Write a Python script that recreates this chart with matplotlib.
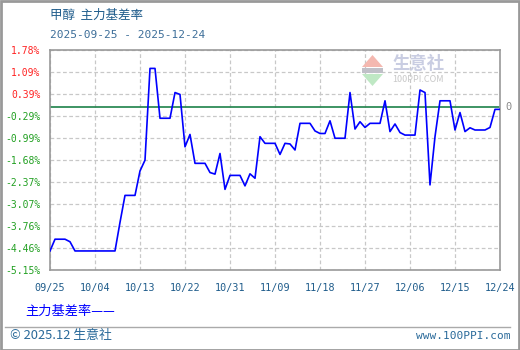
import matplotlib
matplotlib.use("Agg")
import matplotlib.pyplot as plt
from matplotlib.patches import Rectangle, Polygon
from matplotlib.lines import Line2D
import pandas as pd

plt.rcParams['font.family'] = ['Noto Sans CJK SC', 'DejaVu Sans']

# ---- data ----
start_date = "2025-09-25"
end_date = "2025-12-24"
basis_rate = [
    -4.55, -4.18, -4.18, -4.18, -4.26, -4.55, -4.55, -4.55, -4.55, -4.55,
    -4.55, -4.55, -4.55, -4.55, -3.65, -2.80, -2.80, -2.80, -2.03, -1.69,
    1.20, 1.20, -0.37, -0.37, -0.37, 0.44, 0.38, -1.27, -0.88, -1.79,
    -1.79, -1.79, -2.08, -2.13, -1.48, -2.61, -2.17, -2.17, -2.17, -2.50,
    -2.12, -2.26, -0.95, -1.16, -1.16, -1.16, -1.51, -1.16, -1.18, -1.37,
    -0.53, -0.53, -0.53, -0.77, -0.85, -0.85, -0.45, -1.00, -1.00, -1.00,
    0.44, -0.71, -0.48, -0.66, -0.53, -0.53, -0.53, 0.18, -0.79, -0.55,
    -0.82, -0.90, -0.90, -0.90, 0.52, 0.44, -2.47, -0.95, 0.18, 0.18,
    0.18, -0.74, -0.19, -0.79, -0.67, -0.74, -0.74, -0.74, -0.66, -0.09,
    -0.09,
]
y_ticks = [1.78, 1.09, 0.39, -0.29, -0.99, -1.68, -2.37, -3.07, -3.76, -4.46, -5.15]
y_labels = ["1.78%", "1.09%", "0.39%", "-0.29%", "-0.99%", "-1.68%", "-2.37%",
            "-3.07%", "-3.76%", "-4.46%", "-5.15%"]
x_labels = ["09/25", "10/04", "10/13", "10/22", "10/31", "11/09", "11/18",
            "11/27", "12/06", "12/15", "12/24"]
x_tick_dates = ["2025-09-25", "2025-10-04", "2025-10-13", "2025-10-22", "2025-10-31",
                "2025-11-09", "2025-11-18", "2025-11-27", "2025-12-06", "2025-12-15",
                "2025-12-24"]
title = "甲醇  主力基差率"
subtitle = "2025-09-25 - 2025-12-24"
legend_label = "主力基差率——"

dates = pd.date_range(start_date, end_date, freq="D")

W, H = 520, 350
fig = plt.figure(figsize=(W / 100, H / 100), dpi=100)

ax = fig.add_axes([50 / W, 1 - 270 / H, 450 / W, 220 / H])
ax.plot(dates, basis_rate, color="#0000ff", lw=1.2, zorder=3)
ax.axhline(0, color="#2e8b57", lw=1.3, zorder=2)

ax.set_xlim(dates[0], dates[-1])
ax.set_ylim(y_ticks[-1], y_ticks[0])
ax.set_yticks(y_ticks)
ax.set_yticklabels(y_labels, family="DejaVu Sans Mono", fontsize=7)
for lab, v in zip(ax.get_yticklabels(), y_ticks):
    lab.set_color("#ff2222" if v > 0 else "#22a022")
ax.set_xticks(pd.to_datetime(x_tick_dates))
ax.set_xticklabels(x_labels, family="DejaVu Sans Mono", fontsize=7.3, color="#1f5c8b")
ax.tick_params(axis="both", length=0)
ax.tick_params(axis="y", pad=7)
ax.tick_params(axis="x", pad=9)
ax.grid(True, color="#c8c8c8", ls=(0, (3, 2)), lw=0.9)
for s in ax.spines.values():
    s.set_color("#999999")
    s.set_linewidth(1.2)

ax.text(1.012, 0, "0", transform=ax.get_yaxis_transform(), va="center", ha="left",
        fontsize=7.5, color="#888888", family="DejaVu Sans Mono")

# titles
fig.text(50 / W, 1 - 15 / H, title, fontsize=9, color="#1f5c8b", va="center", ha="left")
fig.text(50 / W, 1 - 35 / H, subtitle, fontsize=8, color="#3d6e99", va="center", ha="left",
         family="DejaVu Sans Mono")

# watermark
fig.text(392 / W, 1 - 64 / H, "生意社", fontsize=12.5, color="#c9cde2", va="center",
         ha="left", fontweight="bold")
fig.text(392 / W, 1 - 79 / H, "100PPI.COM", fontsize=6.5, color="#c8c8c8", va="center",
         ha="left")
fig.patches.append(Polygon([[362 / W, 1 - 67 / H], [383 / W, 1 - 67 / H], [372.5 / W, 1 - 55 / H]],
                           closed=True, transform=fig.transFigure, color="#f4b8b0", lw=0))
fig.patches.append(Rectangle((362 / W, 1 - 73 / H), 21 / W, 5 / H, transform=fig.transFigure,
                             color="#c0c0c8", lw=0))
fig.patches.append(Polygon([[362 / W, 1 - 74 / H], [383 / W, 1 - 74 / H], [372.5 / W, 1 - 86 / H]],
                           closed=True, transform=fig.transFigure, color="#bfe8c4", lw=0))

# legend
fig.text(25 / W, 1 - 311 / H, legend_label, fontsize=9.5, color="#0000ff", va="center", ha="left")

# footer
fig.add_artist(Line2D([5 / W, 510 / W], [1 - 326.5 / H, 1 - 326.5 / H], color="#aaaaaa", lw=1,
                      transform=fig.transFigure))
fig.text(10 / W, 1 - 336 / H, "© 2025.12 生意社", fontsize=9.3, color="#2a6a9a", va="center",
         ha="left")
fig.text(510 / W, 1 - 336 / H, "www.100PPI.com", fontsize=8, color="#2a6a9a", va="center",
         ha="right", family="DejaVu Sans Mono")

# outer border
fig.patches.append(Rectangle((0.5 / W, 0.5 / H), 1 - 1.5 / W, 1 - 1.5 / H, transform=fig.transFigure,
                             fill=False, edgecolor="#999999", lw=2))

fig.savefig("out.png", dpi=100)
